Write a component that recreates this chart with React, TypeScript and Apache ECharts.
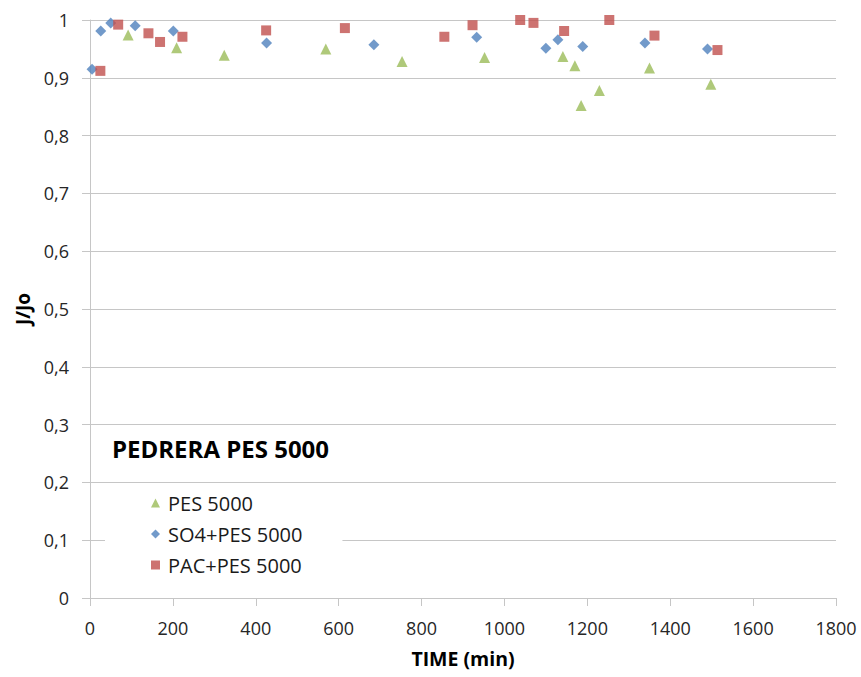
import React, { useEffect, useRef } from "react";
import * as echarts from "echarts";

const seriesNames = ["PES 5000", "SO4+PES 5000", "PAC+PES 5000"];
const pesTime = [92, 209, 324, 569, 753, 952, 1141, 1170, 1185, 1229, 1350, 1498];
const pesValue = [0.974, 0.952, 0.939, 0.95, 0.928, 0.935, 0.937, 0.921, 0.852, 0.878, 0.917, 0.889];
const so4Time = [5, 26, 50, 109, 201, 426, 685, 933, 1100, 1129, 1189, 1339, 1490];
const so4Value = [0.915, 0.981, 0.995, 0.99, 0.981, 0.96, 0.957, 0.97, 0.951, 0.966, 0.954, 0.96, 0.95];
const pacTime = [25, 68, 141, 169, 223, 425, 615, 855, 923, 1038, 1070, 1144, 1253, 1362, 1514];
const pacValue = [0.912, 0.992, 0.977, 0.962, 0.971, 0.982, 0.986, 0.971, 0.991, 1.0, 0.995, 0.981, 1.0, 0.973, 0.948];
const chartTitle = "PEDRERA PES 5000";
const xName = "TIME (min)";
const yName = "J/Jo";

const zip = (xs: number[], ys: number[]) => xs.map((x, i) => [x, ys[i]]);

export default function App() {
  const ref = useRef<HTMLDivElement>(null);
  useEffect(() => {
    if (!ref.current) return;
    const chart = echarts.init(ref.current, null, { renderer: "svg" });
    const font = "'Open Sans', sans-serif";
    const gridColor = "#c6c6c6";
    chart.setOption({
      animation: false,
      backgroundColor: "#ffffff",
      textStyle: { fontFamily: font },
      title: {
        text: chartTitle,
        left: 112,
        top: 436,
        padding: 0,
        textStyle: { fontFamily: font, fontWeight: "bold", fontSize: 24, color: "#000000" },
      },
      legend: {
        orient: "vertical",
        left: 105,
        top: 488,
        padding: [5, 40, 5, 46],
        backgroundColor: "#ffffff",
        itemWidth: 9,
        itemHeight: 9,
        itemGap: 11,
        textStyle: { fontFamily: font, fontSize: 20, color: "#1a1a1a", lineHeight: 20, padding: [0, 0, 0, 3] },
        data: [
          { name: seriesNames[0], icon: "triangle" },
          { name: seriesNames[1], icon: "diamond" },
          { name: seriesNames[2], icon: "rect" },
        ],
      },
      grid: { left: 90, right: 25, top: 20, bottom: 79, containLabel: false },
      xAxis: {
        type: "value",
        min: 0,
        max: 1800,
        interval: 200,
        name: xName,
        nameLocation: "middle",
        nameGap: 50,
        nameTextStyle: { fontFamily: font, fontWeight: "bold", fontSize: 19.5, color: "#000000" },
        axisLine: { show: true, lineStyle: { color: gridColor, width: 1 } },
        axisTick: { show: true, length: 8, lineStyle: { color: gridColor } },
        axisLabel: {
          fontFamily: font,
          fontSize: 18,
          color: "#262626",
          margin: 21,
          formatter: (v: number) => String(v),
        },
        splitLine: { show: false },
      },
      yAxis: {
        type: "value",
        min: 0,
        max: 1,
        interval: 0.1,
        name: yName,
        nameLocation: "middle",
        nameGap: 57,
        nameRotate: 90,
        nameTextStyle: { fontFamily: font, fontWeight: "bold", fontSize: 19, color: "#000000" },
        axisLine: { show: true, lineStyle: { color: gridColor, width: 1 } },
        axisTick: { show: true, length: 8, lineStyle: { color: gridColor } },
        axisLabel: {
          fontFamily: font,
          fontSize: 18,
          color: "#262626",
          margin: 21,
          formatter: (v: number) => (Math.round(v * 10) / 10).toString().replace(".", ","),
        },
        splitLine: { show: true, lineStyle: { color: gridColor, width: 1 } },
      },
      series: [
        {
          name: seriesNames[0],
          type: "scatter",
          symbol: "triangle",
          symbolSize: 11,
          itemStyle: { color: "#9bbb59" },
          data: zip(pesTime, pesValue),
          z: 2,
        },
        {
          name: seriesNames[1],
          type: "scatter",
          symbol: "diamond",
          symbolSize: 11,
          itemStyle: { color: "#4f81bd" },
          data: zip(so4Time, so4Value),
          z: 3,
        },
        {
          name: seriesNames[2],
          type: "scatter",
          symbol: "rect",
          symbolSize: 10,
          itemStyle: { color: "#c0504d" },
          data: zip(pacTime, pacValue),
          z: 4,
        },
      ],
    });
    return () => chart.dispose();
  }, []);
  return <div ref={ref} style={{ width: 861, height: 677, position: "absolute", left: 0, top: 0 }} />;
}
